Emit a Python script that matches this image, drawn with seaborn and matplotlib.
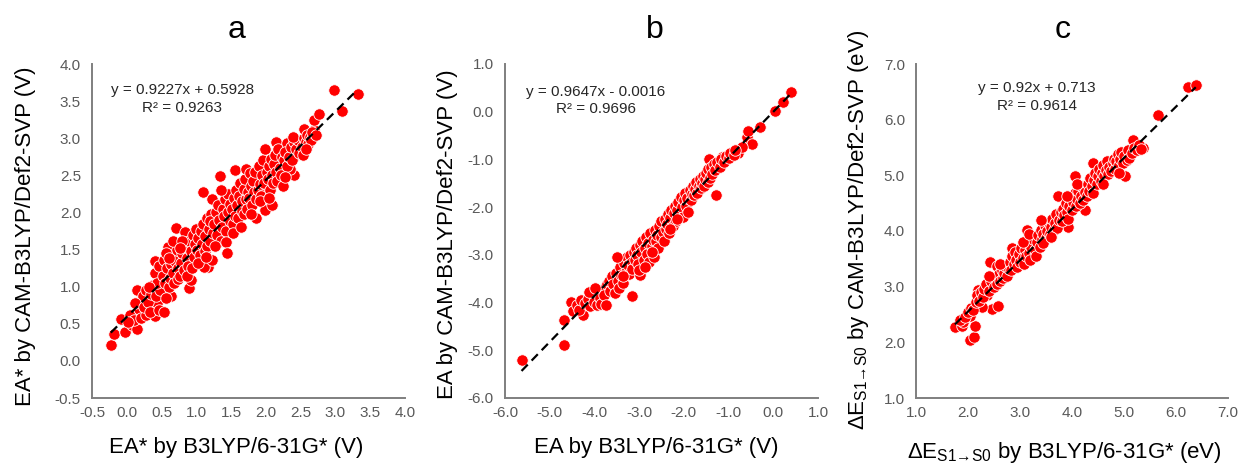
import matplotlib
matplotlib.use("Agg")
import matplotlib.pyplot as plt
import seaborn as sns
import pandas as pd
from matplotlib.ticker import FormatStrFormatter

# ---------------- data ----------------
# Panel a: EA* (V)
a_x = [-0.23, -0.19, -0.09, -0.02, 0.08, 0.15, 0.14, 0.23, 0.05, 0.10, 0.18, 0.12, 0.20, 0.02,
       0.27, 0.40, 0.37, 0.44, 0.25, 0.30, 0.33, 0.28, 0.35, 0.38, 0.42, 0.45, 0.48, 0.40, 0.49, 0.40, 0.46, 0.43, 0.32, 0.47,
       0.54, 0.64, 0.54, 0.59, 0.71, 0.52, 0.55, 0.58, 0.60, 0.62, 0.63, 0.65, 0.67, 0.68, 0.70, 0.72, 0.74, 0.57, 0.66, 0.73, 0.56, 0.61,
       0.83, 0.76, 0.90, 0.93, 0.78, 0.80, 0.82, 0.85, 0.87, 0.88, 0.90, 0.92, 0.95, 0.97, 0.98, 0.80, 0.86, 0.94, 0.99, 0.77,
       1.10, 1.23, 1.17, 1.11, 1.22, 1.01, 1.03, 1.05, 1.06, 1.08, 1.10, 1.12, 1.13, 1.15, 1.16, 1.18, 1.20, 1.21, 1.24, 1.02, 1.14, 1.19,
       1.34, 1.26, 1.28, 1.30, 1.31, 1.33, 1.35, 1.37, 1.38, 1.40, 1.41, 1.43, 1.45, 1.46, 1.48, 1.49, 1.27, 1.42, 1.36, 1.44,
       1.56, 1.51, 1.52, 1.54, 1.55, 1.57, 1.58, 1.60, 1.62, 1.63, 1.65, 1.66, 1.68, 1.69, 1.70, 1.72, 1.73, 1.74, 1.53, 1.64, 1.71,
       1.86, 1.99, 1.99, 1.89, 1.77, 1.76, 1.78, 1.80, 1.81, 1.83, 1.84, 1.86, 1.88, 1.90, 1.91, 1.93, 1.94, 1.96, 1.97, 1.99, 1.79, 1.92,
       2.09, 2.15, 2.19, 2.01, 2.03, 2.04, 2.06, 2.07, 2.09, 2.10, 2.12, 2.13, 2.15, 2.16, 2.18, 2.20, 2.22, 2.23, 2.24, 2.05,
       2.31, 2.40, 2.35, 2.43, 2.26, 2.28, 2.30, 2.33, 2.36, 2.38, 2.41, 2.44, 2.46, 2.48, 2.27, 2.39,
       2.55, 2.55, 2.69, 2.69, 2.52, 2.54, 2.57, 2.59, 2.61, 2.63, 2.65, 2.67, 2.72, 2.58,
       2.77, 2.98, 3.09, 3.32]
a_y = [0.21, 0.36, 0.57, 0.39, 0.49, 0.43, 0.96, 0.87, 0.62, 0.55, 0.70, 0.78, 0.58, 0.52,
       0.62, 0.60, 0.73, 0.78, 0.72, 0.80, 0.66, 0.95, 0.90, 1.02, 0.88, 1.10, 0.95, 1.34, 1.22, 1.18, 1.28, 1.05, 1.00, 0.68,
       0.66, 0.87, 1.36, 1.54, 1.79, 1.15, 1.05, 1.25, 1.00, 1.12, 1.30, 1.42, 1.18, 1.05, 1.35, 1.50, 1.25, 1.45, 1.62, 1.10, 0.85, 1.38,
       1.74, 1.14, 0.98, 1.09, 1.32, 1.45, 1.22, 1.55, 1.38, 1.28, 1.62, 1.48, 1.70, 1.40, 1.58, 1.62, 1.15, 1.25, 1.78, 1.52,
       2.28, 2.18, 1.27, 1.27, 1.36, 1.50, 1.65, 1.42, 1.75, 1.58, 1.85, 1.48, 1.68, 1.55, 1.92, 1.78, 1.62, 1.98, 1.72, 1.32, 1.40, 1.88,
       2.49, 1.85, 2.00, 1.70, 2.10, 1.90, 1.62, 1.80, 2.05, 1.95, 2.18, 1.75, 2.00, 2.25, 1.88, 2.12, 1.55, 1.60, 2.30, 1.45,
       2.57, 2.05, 1.85, 2.20, 1.95, 2.30, 2.10, 1.92, 2.22, 2.40, 2.02, 2.15, 2.32, 1.98, 2.45, 2.18, 2.05, 2.28, 1.72, 1.80, 2.58,
       1.92, 2.03, 2.34, 2.45, 2.53, 2.20, 2.35, 2.10, 2.42, 2.28, 2.55, 2.18, 2.30, 2.62, 2.38, 2.22, 2.50, 2.70, 2.40, 2.85, 1.98, 2.15,
       2.10, 2.95, 2.73, 2.55, 2.45, 2.62, 2.30, 2.72, 2.50, 2.40, 2.65, 2.78, 2.55, 2.42, 2.85, 2.60, 2.50, 2.75, 2.35, 2.20,
       2.94, 2.51, 2.59, 2.77, 2.70, 2.82, 2.62, 2.75, 2.88, 2.70, 2.95, 2.85, 2.98, 2.80, 2.48, 3.02,
       3.00, 3.12, 3.11, 3.25, 2.88, 2.78, 2.95, 3.05, 2.92, 3.02, 2.98, 3.08, 3.05, 2.85,
       3.33, 3.65, 3.37, 3.59]

# Panel b: EA (V)
b_x = [-5.63, -4.68, -4.69, -4.53, -4.47, -4.25, -3.16, -1.28, -1.43, -1.14, -1.26, -1.37,
       -4.40, -4.35, -4.30, -4.22, -4.15, -4.10, -4.05, -4.00, -3.95, -3.92, -3.88, -3.85, -3.80, -3.78, -3.74, -3.72, -4.12, -3.98,
       -3.68, -3.65, -3.60, -3.58, -3.55, -3.52, -3.48, -3.45, -3.42, -3.40, -3.36, -3.33, -3.30, -3.27, -3.25, -3.22, -3.20, -3.17, -3.15, -3.12, -3.10, -3.07, -3.05, -3.03, -3.50, -3.35,
       -2.98, -2.97, -3.00, -2.95, -2.93, -2.90, -2.88, -2.85, -2.83, -2.80, -2.78, -2.75, -2.72, -2.70, -2.67, -2.65, -2.62, -2.60, -2.57, -2.55, -2.52, -2.50, -2.47, -2.45, -2.43, -2.41, -2.88, -2.72,
       -2.38, -2.36, -2.33, -2.30, -2.28, -2.25, -2.22, -2.20, -2.18, -2.15, -2.12, -2.10, -2.07, -2.05, -2.02, -2.00, -1.97, -1.95, -1.92, -1.90, -1.87, -1.85, -1.82, -2.30, -2.15,
       -1.80, -1.77, -1.75, -1.72, -1.70, -1.67, -1.65, -1.62, -1.60, -1.57, -1.55, -1.52, -1.50, -1.47, -1.45, -1.42, -1.40, -1.36, -1.33, -1.30, -1.25, -1.20, -1.17, -1.10, -1.05, -1.00,
       -0.96, -0.78, -0.59, -0.57, -0.48, -0.29, 0.03, 0.21, 0.40, -0.88, -0.70, -0.85]
b_y = [-5.20, -4.89, -4.36, -3.98, -4.17, -4.26, -3.87, -1.74, -0.99, -0.94, -1.15, -1.26,
       -4.05, -4.15, -3.95, -4.00, -3.92, -4.08, -3.80, -3.98, -4.05, -3.75, -3.90, -4.02, -3.72, -3.85, -4.05, -3.62, -3.78, -3.70,
       -3.55, -3.75, -3.45, -3.62, -3.80, -3.38, -3.55, -3.70, -3.25, -3.42, -3.58, -3.18, -3.35, -3.05, -3.22, -3.40, -3.00, -3.15, -3.30, -2.95, -3.10, -2.85, -3.00, -3.20, -3.05, -3.45,
       -2.80, -3.42, -3.32, -2.95, -2.70, -3.10, -2.85, -2.62, -2.98, -2.75, -3.15, -2.55, -2.82, -2.68, -3.05, -2.48, -2.72, -2.58, -2.85, -2.40, -2.62, -2.30, -2.52, -2.70, -2.25, -2.45, -3.25, -2.95,
       -2.35, -2.15, -2.55, -2.22, -2.05, -2.40, -2.12, -1.98, -2.30, -2.05, -1.90, -2.18, -1.78, -2.00, -2.20, -1.85, -1.70, -1.98, -1.80, -2.10, -1.65, -1.85, -1.72, -2.45, -2.25,
       -1.55, -1.75, -1.62, -1.48, -1.70, -1.55, -1.40, -1.60, -1.50, -1.35, -1.55, -1.42, -1.28, -1.48, -1.20, -1.38, -1.15, -1.30, -1.10, -1.22, -1.05, -1.15, -1.00, -1.05, -0.92, -0.98,
       -0.86, -0.87, -0.52, -0.40, -0.68, -0.33, 0.02, 0.21, 0.42, -0.90, -0.75, -0.80]

# Panel c: ΔE S1→S0 (eV)
c_x = [1.75, 1.88, 1.91, 2.03, 2.12, 2.13, 2.04, 2.17, 2.20, 2.36, 2.46, 2.58, 2.42, 2.55, 2.26, 6.24, 6.38, 5.66, 5.18, 5.37, 5.02, 4.06, 4.41, 3.74, 4.25, 3.93, 3.13, 2.84,
       1.85, 1.95, 2.00, 2.05, 2.10, 2.15, 2.18, 2.22, 2.25, 2.28,
       2.30, 2.35, 2.40, 2.45, 2.50, 2.52, 2.55, 2.60, 2.62, 2.65, 2.68, 2.70, 2.72, 2.75, 2.78, 2.40, 2.62,
       2.80, 2.82, 2.85, 2.88, 2.90, 2.92, 2.95, 2.98, 3.00, 3.02, 3.05, 3.08, 3.10, 3.12, 3.15, 3.18, 3.20, 3.22, 3.25, 3.28, 3.30, 3.05, 3.18,
       3.32, 3.35, 3.38, 3.40, 3.42, 3.45, 3.48, 3.50, 3.52, 3.55, 3.58, 3.60, 3.62, 3.65, 3.68, 3.70, 3.72, 3.75, 3.78, 3.45, 3.60, 3.40,
       3.80, 3.82, 3.85, 3.88, 3.90, 3.92, 3.95, 3.98, 4.00, 4.02, 4.05, 4.08, 4.10, 4.12, 4.15, 4.18, 4.20, 4.22, 4.25, 4.28, 3.90, 4.10,
       4.30, 4.32, 4.35, 4.38, 4.40, 4.42, 4.45, 4.48, 4.50, 4.52, 4.55, 4.58, 4.60, 4.62, 4.65, 4.68, 4.70, 4.72, 4.75, 4.78, 4.60,
       4.80, 4.83, 4.85, 4.88, 4.90, 4.92, 4.95, 4.98, 5.00, 5.05, 5.08, 5.10, 5.15, 5.20, 5.25, 5.28, 5.32, 4.90]
c_y = [2.27, 2.29, 2.37, 2.04, 2.10, 2.29, 2.47, 2.67, 2.94, 2.85, 2.59, 2.66, 3.45, 3.38, 2.64, 6.59, 6.63, 6.08, 5.63, 5.49, 4.98, 4.98, 5.22, 4.63, 4.38, 4.08, 4.02, 3.69,
       2.40, 2.45, 2.55, 2.62, 2.58, 2.72, 2.85, 2.75, 2.90, 2.82,
       2.95, 3.05, 2.92, 3.10, 3.00, 3.18, 3.05, 3.22, 3.10, 3.30, 3.15, 3.25, 3.38, 3.20, 3.32, 3.20, 3.40,
       3.45, 3.30, 3.55, 3.40, 3.62, 3.48, 3.35, 3.58, 3.45, 3.70, 3.52, 3.40, 3.65, 3.55, 3.78, 3.60, 3.48, 3.72, 3.85, 3.65, 3.55, 3.80, 3.95,
       3.80, 3.92, 3.72, 4.02, 3.85, 3.95, 4.10, 3.88, 4.00, 4.15, 3.95, 4.08, 4.22, 4.02, 4.15, 4.30, 4.05, 4.20, 4.35, 3.78, 3.90, 4.20,
       4.18, 4.40, 4.28, 4.50, 4.35, 4.22, 4.45, 4.60, 4.38, 4.52, 4.68, 4.45, 4.58, 4.72, 4.50, 4.62, 4.80, 4.55, 4.70, 4.62, 4.62, 4.85,
       4.85, 4.72, 4.95, 4.80, 4.68, 4.92, 5.05, 4.85, 4.98, 5.12, 4.90, 5.05, 5.18, 4.98, 5.10, 5.25, 5.02, 5.15, 5.08, 5.22, 4.85,
       5.30, 5.12, 5.25, 5.38, 5.18, 5.30, 5.42, 5.22, 5.35, 5.28, 5.45, 5.32, 5.40, 5.50, 5.45, 5.55, 5.48, 5.05]

# Trendline coefficients (as printed on the chart)
slopes = [0.9227, 0.9647, 0.92]
intercepts = [0.5928, -0.0016, 0.713]
equations = ["y = 0.9227x + 0.5928", "y = 0.9647x - 0.0016", "y = 0.92x + 0.713"]
r2_labels = ["R\u00b2 = 0.9263", "R\u00b2 = 0.9696", "R\u00b2 = 0.9614"]

panel_letters = ["a", "b", "c"]
a_ticks = [-0.5, 0.0, 0.5, 1.0, 1.5, 2.0, 2.5, 3.0, 3.5, 4.0]
b_ticks = [-6.0, -5.0, -4.0, -3.0, -2.0, -1.0, 0.0, 1.0]
c_ticks = [1.0, 2.0, 3.0, 4.0, 5.0, 6.0, 7.0]

x_labels = ["EA* by B3LYP/6-31G* (V)",
            "EA by B3LYP/6-31G* (V)",
            "\u0394E$_{\\mathregular{S1\u2192S0}}$ by B3LYP/6-31G* (eV)"]
y_labels = ["EA* by CAM-B3LYP/Def2-SVP (V)",
            "EA by CAM-B3LYP/Def2-SVP (V)",
            "\u0394E$_{\\mathregular{S1\u2192S0}}$ by CAM-B3LYP/Def2-SVP (eV)"]

# ---------------- style ----------------
sns.set_style("white")
plt.rcParams["font.family"] = ["Liberation Sans", "DejaVu Sans"]
plt.rcParams["mathtext.fontset"] = "custom"
plt.rcParams["mathtext.rm"] = "Liberation Sans"
plt.rcParams["mathtext.it"] = "Liberation Sans:italic"
plt.rcParams["mathtext.bf"] = "Liberation Sans:bold"

W, H = 1246, 463
fig = plt.figure(figsize=(W / 100, H / 100), dpi=100)

# axes boxes in pixels: (left, right, top, bottom)
boxes = [(92, 405, 64, 398), (505, 818, 64, 398), (916, 1228, 64, 398)]
title_px = [237, 655, 1063]
eq_pos = [(0.288, 0.922, 0.868), (0.291, 0.916, 0.865), (0.387, 0.928, 0.874)]
xlab_pos = [(0.46, -0.147), (0.482, -0.147), (0.476, -0.163)]
ylab_pos = [(-0.214, 0.485), (-0.185, 0.49), (-0.185, 0.503)]

data = [(a_x, a_y, a_ticks), (b_x, b_y, b_ticks), (c_x, c_y, c_ticks)]

for i, (xs, ys, ticks) in enumerate(data):
    l, r, t, b = boxes[i]
    ax = fig.add_axes([l / W, 1 - b / H, (r - l) / W, (b - t) / H])
    df = pd.DataFrame({"x": xs, "y": ys})
    sns.scatterplot(data=df, x="x", y="y", ax=ax, color="#FF0000",
                    edgecolor="white", linewidth=0.6, s=68, alpha=1, zorder=2)
    lx = [min(xs), max(xs)]
    ly = [slopes[i] * v + intercepts[i] for v in lx]
    ax.plot(lx, ly, color="black", lw=1.6, ls=(0, (4, 2.5)), zorder=3)

    ax.set_xlim(ticks[0], ticks[-1])
    ax.set_ylim(ticks[0], ticks[-1])
    ax.set_xticks(ticks)
    ax.set_yticks(ticks)
    ax.xaxis.set_major_formatter(FormatStrFormatter("%.1f"))
    ax.yaxis.set_major_formatter(FormatStrFormatter("%.1f"))
    ax.tick_params(axis="both", length=0, labelsize=11, colors="#595959")
    ax.tick_params(axis="x", pad=6)
    ax.tick_params(axis="y", pad=8)
    for s in ["top", "right"]:
        ax.spines[s].set_visible(False)
    for s in ["left", "bottom"]:
        ax.spines[s].set_color("#7f7f7f")
        ax.spines[s].set_linewidth(1.4)

    ax.set_xlabel(x_labels[i], fontsize=16, color="black", va="center", ha="center")
    ax.set_ylabel(y_labels[i], fontsize=16, color="black", va="center", ha="center")
    ax.xaxis.set_label_coords(*xlab_pos[i])
    ax.yaxis.set_label_coords(*ylab_pos[i])

    ex, ey, ry = eq_pos[i]
    ax.text(ex, ey, equations[i], transform=ax.transAxes, ha="center", va="center",
            fontsize=11, color="#262626")
    ax.text(ex, ry, r2_labels[i], transform=ax.transAxes, ha="center", va="center",
            fontsize=11, color="#262626")

    fig.text(title_px[i] / W, 1 - 30 / H, panel_letters[i], ha="center", va="center",
             fontsize=23, color="black")

fig.savefig("out.png", dpi=100)
